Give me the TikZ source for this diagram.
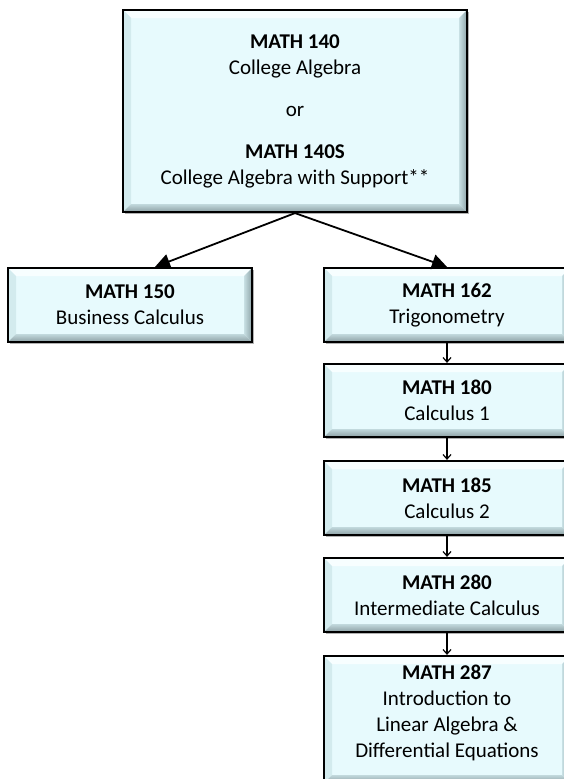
\documentclass[tikz,border=0pt]{standalone}
\usepackage{fontspec}
\setmainfont{Carlito}
\usetikzlibrary{arrows.meta,shadows,calc}
\definecolor{boxfill}{HTML}{E7FAFD}
\definecolor{bevtop}{HTML}{F7FEFF}
\definecolor{bevleft}{HTML}{D3EBEE}
\definecolor{bevrout}{HTML}{8EA3A7}
\definecolor{bevrin}{HTML}{C8E0E4}
\definecolor{bevbout}{HTML}{8C9FA3}
\definecolor{bevbin}{HTML}{C2D9DD}
\tikzset{
  bevelbox/.style={draw=black, line width=2.2pt, fill=boxfill,
    minimum width=#1, inner sep=0pt, align=center,
    font=\fontsize{21}{26}\selectfont,
    drop shadow={shadow xshift=1.5pt, shadow yshift=-1.5pt, fill=black, opacity=0.3},
    path picture={
      \path (path picture bounding box.north west) coordinate (pNW)
            (path picture bounding box.north east) coordinate (pNE)
            (path picture bounding box.south west) coordinate (pSW)
            (path picture bounding box.south east) coordinate (pSE);
      \fill[bevtop] (pNW) -- (pNE) -- ([shift={(-8pt,-8pt)}]pNE) -- ([shift={(8pt,-8pt)}]pNW) -- cycle;
      \fill[bevleft] (pNW) -- ([shift={(8pt,-8pt)}]pNW) -- ([shift={(8pt,8pt)}]pSW) -- (pSW) -- cycle;
      \shade[left color=bevrin, right color=bevrout] (pNE) -- (pSE) -- ([shift={(-8pt,8pt)}]pSE) -- ([shift={(-8pt,-8pt)}]pNE) -- cycle;
      \shade[top color=bevbin, bottom color=bevbout] (pSW) -- ([shift={(8pt,8pt)}]pSW) -- ([shift={(-8pt,8pt)}]pSE) -- (pSE) -- cycle;
    }},
  bigarrow/.style={line width=1.8pt, -{Triangle[length=15pt,width=15pt]}},
  smallarrow/.style={line width=1.2pt, -{Straight Barb[length=4.5pt,width=8pt]}},
  boxtext/.style={inner sep=0pt, align=center, font=\fontsize{21}{26}\selectfont}
}
\begin{document}
\begin{tikzpicture}[x=1pt,y=-1pt]
\clip (0,0) rectangle (564,779);
\useasboundingbox (0,0) rectangle (564,779);
\fill[white] (0,0) rectangle (564,779);

\node[bevelbox=344pt, minimum height=202pt] (top) at (295,111)
  {\textbf{MATH 140}\\College Algebra\\[16pt]or\\[16pt]\textbf{MATH 140S}\\College Algebra with Support**};

\node[bevelbox=244pt, minimum height=74pt] (b150) at (130,305) {\textbf{MATH 150}\\Business Calculus};
\node[bevelbox=246pt, minimum height=74pt] (b162) at (447,305) {\textbf{MATH 162}\\Trigonometry};
\node[bevelbox=246pt, minimum height=73pt] (b180) at (447,400.5) {\textbf{MATH 180}\\Calculus 1};
\node[bevelbox=246pt, minimum height=74pt] (b185) at (447,498) {\textbf{MATH 185}\\Calculus 2};
\node[bevelbox=246pt, minimum height=74pt] (b280) at (447,595) {\textbf{MATH 280}\\Intermediate Calculus};
\node[bevelbox=246pt, minimum height=127pt] (b287) at (447,719.5) {};
\node[boxtext, anchor=north] (t287) at (447,665)
  {\textbf{MATH 287}\\Introduction to\\Linear Algebra \&\\Differential Equations};

\coordinate (e150) at ($(b150.north)+(25pt,0)$);
\draw[bigarrow] (top.south) -- (e150);
\draw[bigarrow] (top.south) -- (b162.north);
\draw[smallarrow] (b162.south) -- (b180.north);
\draw[smallarrow] (b180.south) -- (b185.north);
\draw[smallarrow] (b185.south) -- (b280.north);
\draw[smallarrow] (b280.south) -- (b287.north);
\end{tikzpicture}
\end{document}
